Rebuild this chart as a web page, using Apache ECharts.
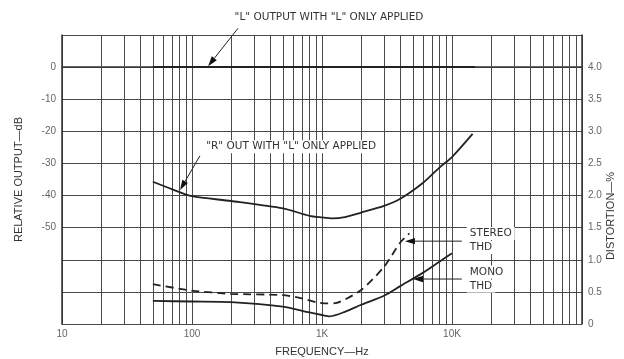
<!DOCTYPE html>
<html><head><meta charset="utf-8">
<script src="https://cdn.jsdelivr.net/npm/echarts@6/dist/echarts.min.js"></script>
<style>html,body{margin:0;padding:0;background:#fff}#c{width:624px;height:359px}</style>
</head><body><div id="c"></div>
<script>
// ---- data ----
const xTickLabels = {10: '10', 100: '100', 1000: '1K', 10000: '10K'};
const dbTickLabels = ['0', '-10', '-20', '-30', '-40', '-50'];
const minorFreqs = [20, 30, 40, 50, 60, 70, 80, 90,
  200, 300, 400, 500, 600, 700, 800, 900,
  2000, 3000, 4000, 5000, 6000, 7000, 8000, 9000,
  20000, 30000, 40000, 50000, 60000, 70000, 80000, 90000];
const lOutput = [[50, 0], [15000, 0]];
const rOutput = [[50, -35.7], [70, -38], [100, -40.2], [200, -41.7], [500, -44], [800, -46.3],
  [1000, -46.8], [1200, -47.1], [1500, -46.7], [2000, -45.3], [3000, -43.2], [4000, -41],
  [6000, -36], [8000, -31.3], [10000, -28], [14400, -20.8]];
const stereoThd = [[50, 0.62], [100, 0.52], [200, 0.47], [500, 0.45], [700, 0.4], [900, 0.34],
  [1100, 0.32], [1300, 0.33], [2000, 0.53], [3000, 0.89], [4000, 1.27], [4700, 1.41]];
const monoThd = [[50, 0.36], [100, 0.35], [200, 0.34], [500, 0.27], [800, 0.18], [1000, 0.14],
  [1150, 0.12], [1500, 0.19], [2000, 0.3], [3000, 0.44], [4000, 0.59], [6000, 0.8],
  [8000, 0.97], [10000, 1.1]];

const FONT = 'Liberation Sans, Arial, sans-serif';
const AFONT = '"DejaVu Sans", sans-serif';
const GRID = '#4a4a4a';
const INK = '#222';

const chart = echarts.init(document.getElementById('c'), null, {renderer: 'canvas'});
chart.setOption({
  animation: false,
  backgroundColor: '#fff',
  grid: {left: 62, right: 42, top: 35, bottom: 35, outerBoundsMode: 'none', containLabel: false},
  xAxis: {
    type: 'log', logBase: 10, min: 10, max: 100000,
    name: 'FREQUENCY—Hz', nameLocation: 'middle', nameGap: 22,
    nameTextStyle: {fontFamily: FONT, fontSize: 11, color: '#333'},
    axisLine: {show: true, lineStyle: {color: '#333', width: 1.5}},
    axisTick: {show: false},
    axisLabel: {formatter: v => xTickLabels[v] || '', color: '#666', fontFamily: FONT, fontSize: 10, margin: 5},
    splitLine: {show: true, lineStyle: {color: GRID, width: 1}}
  },
  yAxis: [{
    type: 'value', min: -80, max: 10, interval: 10,
    name: 'RELATIVE OUTPUT—dB', nameLocation: 'middle', nameGap: 38,
    nameTextStyle: {fontFamily: FONT, fontSize: 11, color: '#333'},
    axisLine: {show: true, lineStyle: {color: '#333', width: 1.5}},
    axisTick: {show: false},
    axisLabel: {formatter: v => (v <= 0 && v >= -50) ? dbTickLabels[Math.round(-v / 10)] : '',
      color: '#666', fontFamily: FONT, fontSize: 10, margin: 6},
    splitLine: {show: true, lineStyle: {color: GRID, width: 1}}
  }, {
    type: 'value', min: 0, max: 4.5, interval: 0.5, position: 'right',
    axisLine: {show: true, lineStyle: {color: '#333', width: 1.5}},
    axisTick: {show: false},
    axisLabel: {formatter: v => v === 0 ? '0' : (v < 4.4 ? v.toFixed(1) : ''),
      color: '#666', fontFamily: FONT, fontSize: 10, margin: 6},
    splitLine: {show: false}
  }],
  series: [{
    type: 'line', name: 'L', data: lOutput, yAxisIndex: 0, symbol: 'none',
    lineStyle: {color: INK, width: 2}, z: 5,
    markLine: {
      silent: true, symbol: 'none', label: {show: false}, animation: false,
      lineStyle: {color: GRID, width: 1, type: 'solid'},
      emphasis: {disabled: true},
      data: minorFreqs.map(f => ({xAxis: f}))
    }
  }, {
    type: 'line', name: 'R', data: rOutput, yAxisIndex: 0, symbol: 'none', smooth: 0.25,
    lineStyle: {color: INK, width: 1.8}, z: 5
  }, {
    type: 'line', name: 'Stereo THD', data: stereoThd, yAxisIndex: 1, symbol: 'none', smooth: 0.25,
    lineStyle: {color: INK, width: 1.8, type: [8, 5]}, z: 5
  }, {
    type: 'line', name: 'Mono THD', data: monoThd, yAxisIndex: 1, symbol: 'none', smooth: 0.25,
    lineStyle: {color: INK, width: 1.8}, z: 5
  }]
});

// ---- annotations (positioned in data units) ----
const pL = d => chart.convertToPixel({xAxisIndex: 0, yAxisIndex: 0}, d);
const pR = d => chart.convertToPixel({xAxisIndex: 0, yAxisIndex: 1}, d);

function arrow(p0, p1) {
  const dx = p1[0] - p0[0], dy = p1[1] - p0[1], L = Math.hypot(dx, dy);
  const ux = dx / L, uy = dy / L, len = 10, w = 3.2;
  const bx = p1[0] - ux * len, by = p1[1] - uy * len;
  return [
    {type: 'line', z: 20, shape: {x1: p0[0], y1: p0[1], x2: bx, y2: by}, style: {stroke: INK, lineWidth: 1}},
    {type: 'polygon', z: 20, shape: {points: [[p1[0], p1[1]], [bx - uy * w, by + ux * w], [bx + uy * w, by - ux * w]]}, style: {fill: '#111'}}
  ];
}
function label(p, text, align, bg) {
  return {type: 'text', z: 20, x: p[0], y: p[1], style: {
    text: text, fill: '#333', font: '10.5px ' + AFONT, align: align, verticalAlign: 'middle',
    backgroundColor: bg ? '#fff' : null, padding: bg ? [1, 3] : 0
  }};
}

const g = [];
g.push(label(pL([1132, 15.5]), '"L" OUTPUT WITH "L" ONLY APPLIED', 'center', false));
g.push(...arrow(pL([226, 12.1]), pL([133, 0.3])));
g.push(label(pL([122, -24.8]), '"R" OUT WITH "L" ONLY APPLIED', 'left', true));
g.push(...arrow(pL([115, -27.6]), pL([81, -38.3])));
g.push(label(pR([13000, 1.41]), 'STEREO', 'left', true));
g.push(label(pR([13000, 1.19]), 'THD', 'left', true));
g.push(...arrow(pR([11900, 1.29]), pR([4345, 1.29])));
g.push(label(pR([13000, 0.81]), 'MONO', 'left', true));
g.push(label(pR([13000, 0.59]), 'THD', 'left', true));
g.push(...arrow(pR([11900, 0.70]), pR([5010, 0.70])));
g.push({type: 'text', z: 20, x: 611, y: 216, rotation: Math.PI / 2, style: {
  text: 'DISTORTION—%', fill: '#333', font: '11px ' + FONT, align: 'center', verticalAlign: 'middle'}});
chart.setOption({graphic: g});
</script></body></html>
